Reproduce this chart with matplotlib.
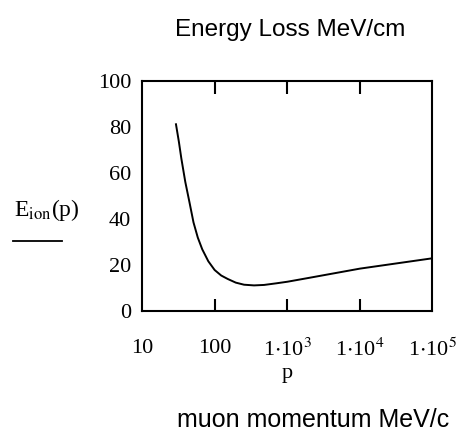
import matplotlib
matplotlib.use("Agg")
import matplotlib.pyplot as plt
from matplotlib.lines import Line2D

# valores (momento del muon MeV/c, perdida MeV/cm)
p_vals = [29, 31.8, 34.4, 39, 44.5, 50.6, 58, 66.8, 81, 99, 122, 150, 194,
          252, 346, 476, 700, 1000, 2000, 10000, 100000]
e_vals = [81.3, 73.7, 66.4, 56.2, 47.4, 38.6, 32, 26.9, 21.7, 17.9, 15.5, 14.0, 12.4,
          11.5, 11.2, 11.4, 12.1, 12.8, 14.5, 18.5, 23]

x_ticks = [10, 100, 1e3, 1e4, 1e5]
x_labels = ["10", "100", r"1$\cdot$10$^{3}$", r"1$\cdot$10$^{4}$", r"1$\cdot$10$^{5}$"]
y_ticks = [0, 20, 40, 60, 80, 100]

plt.rcParams["font.family"] = "Liberation Serif"
plt.rcParams["mathtext.fontset"] = "stix"

fig = plt.figure(figsize=(4.64, 4.37), dpi=100)
ax = fig.add_axes([0.307, 0.288, 0.625, 0.526])

ax.plot(p_vals, e_vals, color="black", lw=1.4)

ax.set_xscale("log")
ax.set_xlim(10, 1e5)
ax.set_ylim(0, 100)

ax.set_xticks(x_ticks)
ax.set_xticklabels(x_labels, fontsize=16)
ax.xaxis.set_minor_locator(matplotlib.ticker.NullLocator())
ax.set_yticks(y_ticks)
ax.set_yticklabels([str(v) for v in y_ticks], fontsize=16)

# marcas internas solo arriba y abajo, en 100, 1e3, 1e4
ax.tick_params(axis="x", direction="in", length=9, width=1.5, top=True, pad=20)
ax.tick_params(axis="y", length=0, pad=8)
for t in ax.xaxis.get_major_ticks():
    if t.get_loc() in (10, 1e5):
        t.tick1line.set_visible(False)
        t.tick2line.set_visible(False)

for s in ax.spines.values():
    s.set_linewidth(1.5)

ax.set_xlabel("p", fontsize=16, labelpad=2)

fig.text(0.625, 0.931, "Energy Loss MeV/cm", family="Liberation Sans",
         fontsize=17.5, ha="center", va="center")
fig.text(0.675, 0.039, "muon momentum MeV/c", family="Liberation Sans",
         fontsize=18, ha="center", va="center")

fig.text(0.03, 0.52, r"E$_{\rm ion}$(p)", fontsize=17, ha="left", va="center")
fig.add_artist(Line2D([0.028, 0.134], [0.449, 0.449], color="black", lw=1.3))

fig.savefig("out.png", dpi=100)
